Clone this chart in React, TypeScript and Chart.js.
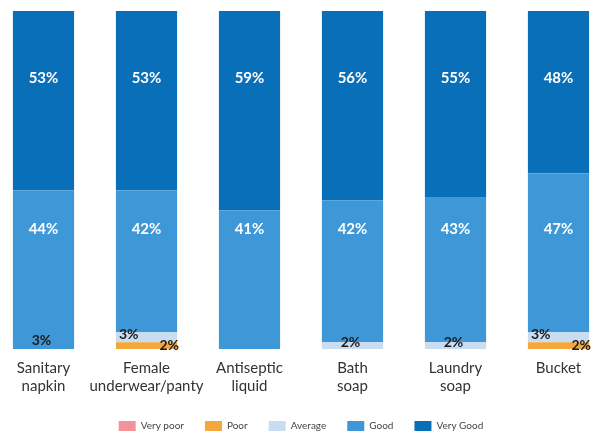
import React, { useEffect, useRef } from "react";
import { Chart, registerables } from "chart.js";

Chart.register(...registerables);

const categories: string[][] = [
  ["Sanitary", "napkin"],
  ["Female", "underwear/panty"],
  ["Antiseptic", "liquid"],
  ["Bath", "soap"],
  ["Laundry", "soap"],
  ["Bucket"],
];

const veryPoorValues = [0, 0, 0, 0, 0, 0];
const poorValues = [0, 2, 0, 0, 0, 2];
const averageValues = [3, 3, 0, 2, 2, 3];
const goodValues = [44, 42, 41, 42, 43, 47];
const veryGoodValues = [53, 53, 59, 56, 55, 48];

const seriesNames = ["Very poor", "Poor", "Average", "Good", "Very Good"];
const seriesColors = ["#f2939c", "#f5a73c", "#c8dcf2", "#3e98d8", "#0a6fb9"];
// the reference renders the first bar's Average slice in the Good colour
const averageBarColors = ["#3e98d8", "#c8dcf2", "#c8dcf2", "#c8dcf2", "#c8dcf2", "#c8dcf2"];

const FONT = "Lato, 'Open Sans', sans-serif";

const labelPlugin = {
  id: "segmentLabels",
  afterDatasetsDraw(chart: any) {
    const ctx = chart.ctx;
    const y = chart.scales.y;
    ctx.save();
    // hide the anti-aliasing seam where two same-coloured slices meet
    chart.getDatasetMeta(2).data.forEach((bar: any, i: number) => {
      if (averageBarColors[i] === seriesColors[3] && averageValues[i]) {
        ctx.fillStyle = averageBarColors[i];
        ctx.fillRect(bar.x - bar.width / 2, bar.y - 1, bar.width, 2);
      }
    });
    ctx.textBaseline = "middle";
    chart.data.datasets.forEach((ds: any, di: number) => {
      const meta = chart.getDatasetMeta(di);
      meta.data.forEach((bar: any, i: number) => {
        const v = ds.data[i];
        if (!v) return;
        const text = `${v}%`;
        const left = bar.x - bar.width / 2;
        const right = bar.x + bar.width / 2;
        let px = bar.x;
        let py = (bar.y + bar.base) / 2;
        ctx.textAlign = "center";
        ctx.font = `bold 15px ${FONT}`;
        if (di === 4) {
          ctx.fillStyle = "#ffffff";
          py = y.getPixelForValue(80);
        } else if (di === 3) {
          ctx.fillStyle = "#ffffff";
          py = y.getPixelForValue(35.5);
        } else if (di === 2) {
          ctx.font = `bold 14px ${FONT}`;
          ctx.fillStyle = "#1b1b1b";
          py = (bar.y + bar.base) / 2 - 3;
          if (poorValues[i] > 0) {
            ctx.textAlign = "left";
            px = left + 3;
          } else {
            px = bar.x - 2;
          }
        } else if (di === 1) {
          ctx.font = `bold 14px ${FONT}`;
          ctx.fillStyle = "#1b1b1b";
          ctx.textAlign = "right";
          px = right + 2;
        } else {
          ctx.fillStyle = "#1b1b1b";
        }
        ctx.fillText(text, px, py);
      });
    });
    ctx.restore();
  },
};

export default function App() {
  const ref = useRef<HTMLCanvasElement | null>(null);
  useEffect(() => {
    if (!ref.current) return;
    const values = [veryPoorValues, poorValues, averageValues, goodValues, veryGoodValues];
    const chart = new Chart(ref.current, {
      type: "bar",
      data: {
        labels: categories as any,
        datasets: values.map((d, k) => ({
          label: seriesNames[k],
          data: d,
          backgroundColor: k === 2 ? averageBarColors : seriesColors[k],
          borderWidth: 0,
          barPercentage: 0.594,
          categoryPercentage: 1,
        })) as any,
      },
      options: {
        animation: false,
        responsive: true,
        maintainAspectRatio: false,
        layout: { padding: { top: 11, bottom: 0, left: 0, right: 0 } },
        scales: {
          x: {
            stacked: true,
            grid: { display: false, drawTicks: false },
            border: { display: false },
            afterFit: (scale: any) => {
              scale.height = 51;
            },
            ticks: {
              padding: 10,
              color: "#333333",
              font: { family: FONT, size: 15, lineHeight: 1.2 },
              maxRotation: 0,
              autoSkip: false,
            },
          },
          y: { stacked: true, display: false, min: 0, max: 100 },
        },
        plugins: {
          legend: {
            position: "bottom",
            maxHeight: 35,
            labels: {
              boxWidth: 17,
              boxHeight: 10,
              padding: 21,
              color: "#444444",
              font: { family: FONT, size: 10 },
              generateLabels: () =>
                seriesNames.map((n, k) => ({
                  text: n,
                  fillStyle: seriesColors[k],
                  strokeStyle: seriesColors[k],
                  fontColor: "#444444",
                  lineWidth: 0,
                  hidden: false,
                  datasetIndex: k,
                })),
            },
          },
          tooltip: { enabled: false },
        },
      },
      plugins: [labelPlugin],
    });
    return () => chart.destroy();
  }, []);
  return (
    <div style={{ position: "absolute", left: 0, top: 0, width: 597, height: 435, overflow: "hidden", background: "#fff" }}>
      <div style={{ position: "absolute", left: -8, top: 0, width: 618, height: 435 }}>
        <canvas ref={ref} />
      </div>
    </div>
  );
}
